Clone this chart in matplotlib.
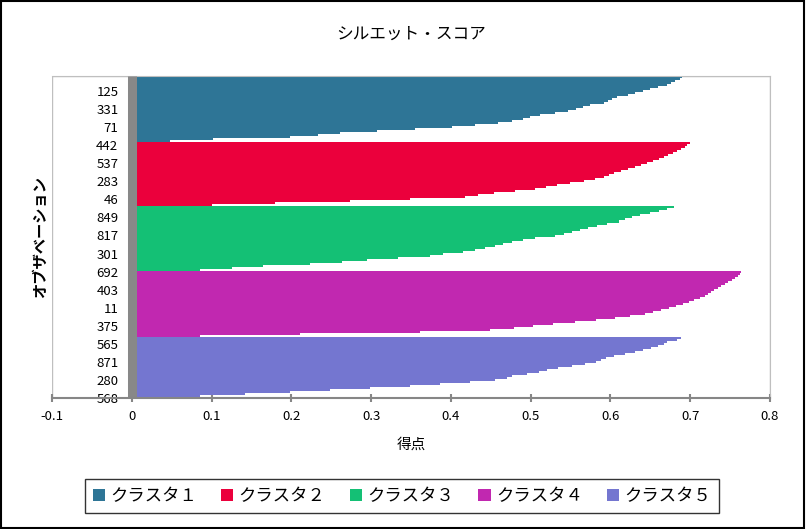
import matplotlib
matplotlib.use("Agg")
import matplotlib.pyplot as plt
from matplotlib.patches import Patch, Rectangle

plt.rcParams['font.family'] = ['Noto Sans CJK JP', 'DejaVu Sans']

# silhouette values per cluster, sorted high -> low
cluster1 = [0.690, 0.687, 0.681, 0.676, 0.671, 0.660, 0.650, 0.641, 0.631, 0.622, 0.608,
            0.602, 0.597, 0.592, 0.574, 0.566, 0.557, 0.547, 0.530, 0.512, 0.499, 0.490,
            0.476, 0.459, 0.430, 0.401, 0.355, 0.308, 0.261, 0.233, 0.198, 0.102, 0.048]
cluster2 = [0.700, 0.696, 0.693, 0.688, 0.683, 0.678, 0.672, 0.667, 0.661, 0.653, 0.646,
            0.638, 0.631, 0.622, 0.613, 0.604, 0.598, 0.592, 0.581, 0.567, 0.549, 0.533,
            0.519, 0.505, 0.480, 0.454, 0.434, 0.418, 0.349, 0.273, 0.180, 0.100]
cluster3 = [0.680, 0.671, 0.661, 0.650, 0.637, 0.627, 0.618, 0.611, 0.596, 0.583, 0.572,
            0.562, 0.552, 0.542, 0.530, 0.506, 0.490, 0.476, 0.465, 0.455, 0.443, 0.430,
            0.415, 0.390, 0.374, 0.334, 0.295, 0.263, 0.223, 0.164, 0.125, 0.085]
cluster4 = [0.764, 0.762, 0.760, 0.756, 0.752, 0.747, 0.744, 0.739, 0.735, 0.730, 0.726,
            0.722, 0.718, 0.712, 0.705, 0.698, 0.691, 0.682, 0.673, 0.663, 0.653, 0.643,
            0.624, 0.606, 0.582, 0.555, 0.528, 0.503, 0.479, 0.449, 0.361, 0.211, 0.085]
cluster5 = [0.688, 0.683, 0.671, 0.667, 0.660, 0.651, 0.641, 0.631, 0.618, 0.605, 0.595,
            0.588, 0.582, 0.568, 0.552, 0.534, 0.520, 0.510, 0.495, 0.476, 0.470, 0.455,
            0.424, 0.386, 0.349, 0.298, 0.248, 0.198, 0.142, 0.085, 0.058]

cluster_names = ["クラスタ１", "クラスタ２", "クラスタ３", "クラスタ４", "クラスタ５"]
colors = ["#2E7596", "#EB003C", "#14C075", "#C128B0", "#7476D0"]

# observation ids shown on the category axis (every 9th bar, bottom up)
obs_labels = ["125", "331", "71", "442", "537", "283", "46", "849", "817",
              "301", "692", "403", "11", "375", "565", "871", "280", "568"]

x_ticks = [-0.1, 0, 0.1, 0.2, 0.3, 0.4, 0.5, 0.6, 0.7, 0.8]
x_ticklabels = ["-0.1", "0", "0.1", "0.2", "0.3", "0.4", "0.5", "0.6", "0.7", "0.8"]

fig = plt.figure(figsize=(8.06, 5.29), dpi=100)
ax = fig.add_axes([52 / 806, 1 - 398 / 529, 718 / 806, 322 / 529])

start = 0
for vals, col in zip([cluster1, cluster2, cluster3, cluster4, cluster5], colors):
    ys = list(range(start, start + len(vals)))
    ax.barh(ys, vals, height=1.05, color=col, linewidth=0, antialiased=False, zorder=2)
    start += len(vals)
n_obs = start

ax.set_xlim(-0.1, 0.8)
ax.set_ylim(n_obs - 1, -0.5)

# frame of the plot area
for s in ["top", "right"]:
    ax.spines[s].set_color("#BFBFBF")
ax.spines["bottom"].set_color("#868686")
ax.spines["bottom"].set_linewidth(1.5)
ax.spines["bottom"].set_zorder(4)
ax.add_patch(Rectangle((0, 0), 1, 1, transform=ax.transAxes, fill=False,
                       edgecolor="#BFBFBF", linewidth=1, zorder=1))

# thick category axis at x = 0
ax.spines["left"].set_position(("data", 0.0006))
ax.spines["left"].set_color("#888888")
ax.spines["left"].set_linewidth(6.5)
ax.spines["left"].set_capstyle("butt")
ax.spines["left"].set_zorder(3)

ax.set_xticks(x_ticks)
ax.set_xticklabels(x_ticklabels)
ax.tick_params(axis="x", direction="inout", length=6, width=1.5, color="#868686",
               labelsize=9.5, pad=6)

tick_pos = list(range(n_obs - 1 - 9 * (len(obs_labels) - 1), n_obs, 9))
ax.set_yticks(tick_pos)
ax.set_yticklabels(obs_labels)
ax.tick_params(axis="y", length=0, pad=10, labelsize=9.5)

ax.set_title("シルエット・スコア", fontsize=12, pad=27)
ax.set_xlabel("得点", fontsize=10.5, labelpad=10)
fig.text(40 / 806, 1 - 237 / 529, "オブザベーション", rotation=90, fontsize=11,
         fontweight="bold", ha="center", va="center")

handles = [Patch(facecolor=c, edgecolor="none") for c in colors]
leg = fig.legend(handles, cluster_names, loc="center", bbox_to_anchor=(402 / 806, 1 - 496 / 529),
                 ncol=5, frameon=True, fancybox=False, fontsize=12.5,
                 handlelength=0.7, handleheight=0.7, handletextpad=0.3,
                 columnspacing=1.4, borderpad=0.45, borderaxespad=0)
leg.get_frame().set_edgecolor("black")
leg.get_frame().set_linewidth(1)

# chart border
fig.add_artist(Rectangle((0.001, 0.001), 0.997, 0.997, transform=fig.transFigure,
                         fill=False, edgecolor="black", linewidth=1.5))

plt.savefig("out.png", dpi=100)
plt.close()
